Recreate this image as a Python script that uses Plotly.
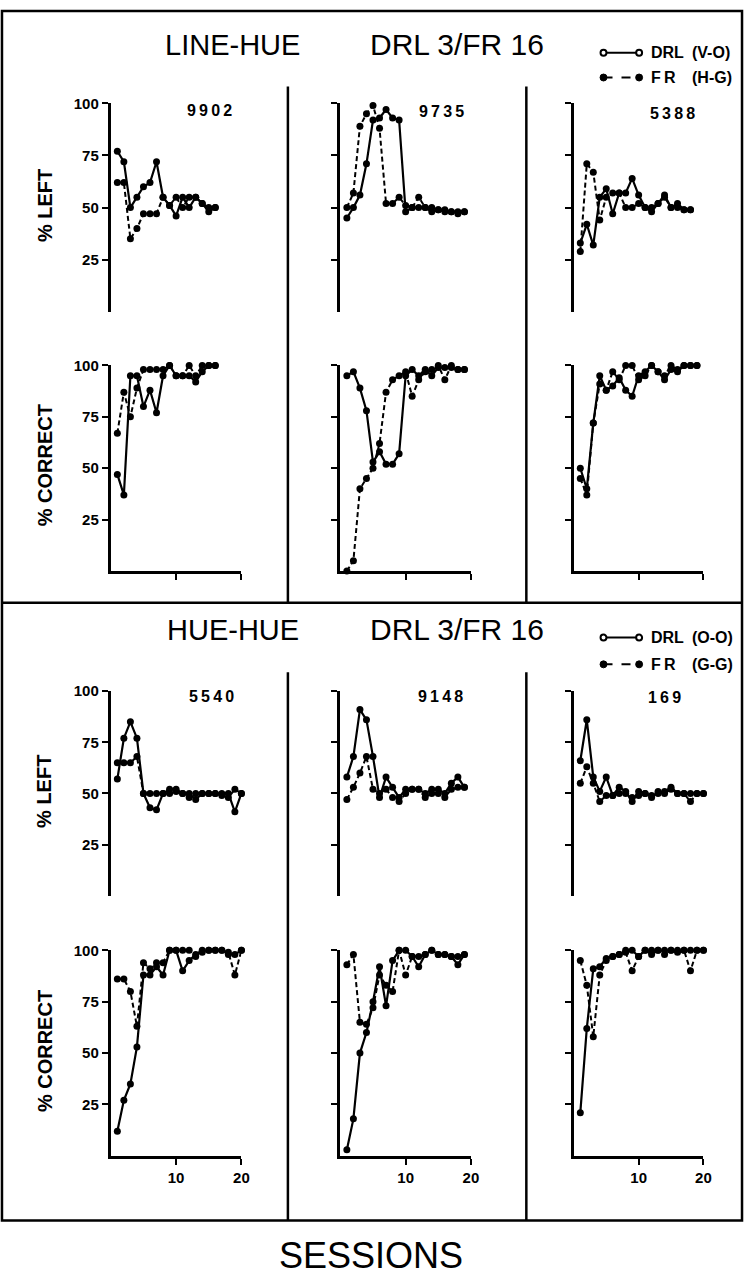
import plotly.graph_objects as go

W, H = 752, 1276

# ---------------- data (percent values per session) ----------------
subjects = ["9902", "9735", "5388", "5540", "9148", "169"]

left_9902_drl = [77, 72, 50, 55, 60, 62, 72, 55, 51, 46, 55, 50, 55, 52, 48, 50]
left_9902_fr = [62, 62, 35, 40, 47, 47, 47, 55, 51, 55, 50, 55, 55, 52, 50, 50]
left_9735_drl = [45, 50, 56, 71, 92, 93, 97, 93, 92, 48, 50, 50, 50, 48, 49, 48, 48, 48, 48]
left_9735_fr = [50, 57, 89, 95, 99, 88, 52, 52, 55, 51, 50, 55, 50, 50, 49, 49, 48, 47, 48]
left_5388_drl = [33, 42, 32, 55, 59, 47, 57, 57, 64, 56, 50, 48, 52, 56, 50, 52, 49, 49]
left_5388_fr = [29, 71, 67, 44, 55, 57, 57, 50, 50, 52, 50, 50, 52, 55, 50, 50, 49, 49]

corr_9902_drl = [47, 37, 95, 95, 80, 88, 77, 95, 100, 95, 95, 95, 92, 97, 100, 100]
corr_9902_fr = [67, 87, 75, 89, 98, 98, 98, 98, 100, 95, 95, 100, 95, 100, 100, 100]
corr_9735_drl = [95, 97, 89, 78, 53, 58, 52, 52, 57, 95, 98, 95, 98, 95, 99, 99, 99, 98, 98]
corr_9735_fr = [0, 5, 40, 45, 50, 62, 87, 93, 95, 97, 85, 93, 97, 98, 100, 93, 100, 98, 98]
corr_5388_drl = [50, 40, 72, 95, 88, 90, 94, 88, 85, 95, 97, 100, 97, 93, 98, 97, 100, 100, 100]
corr_5388_fr = [45, 37, 72, 91, 88, 97, 93, 100, 100, 93, 95, 100, 97, 95, 100, 98, 100, 100, 100]

left_5540_drl = [57, 77, 85, 77, 50, 43, 42, 50, 52, 52, 50, 50, 47, 50, 50, 50, 50, 50, 41, 50]
left_5540_fr = [65, 65, 65, 68, 50, 50, 50, 50, 50, 51, 50, 48, 50, 50, 50, 50, 49, 48, 52, 50]
left_9148_drl = [58, 68, 91, 86, 68, 48, 58, 53, 48, 52, 52, 52, 50, 52, 52, 50, 55, 58, 53]
left_9148_fr = [47, 53, 60, 68, 52, 50, 52, 48, 46, 50, 52, 52, 48, 50, 50, 48, 52, 53, 53]
left_169_drl = [66, 86, 58, 51, 58, 49, 53, 51, 46, 51, 50, 49, 50, 51, 53, 50, 50, 50, 50, 50]
left_169_fr = [55, 63, 55, 46, 49, 49, 50, 50, 48, 49, 50, 48, 51, 50, 52, 50, 50, 46, 50, 50]

corr_5540_drl = [12, 27, 35, 53, 88, 88, 92, 88, 100, 100, 90, 95, 98, 100, 100, 100, 100, 98, 98, 100]
corr_5540_fr = [86, 86, 80, 63, 94, 91, 94, 94, 100, 100, 100, 100, 97, 99, 100, 100, 100, 99, 88, 100]
corr_9148_drl = [3, 18, 50, 60, 75, 92, 73, 95, 100, 100, 97, 92, 98, 100, 98, 98, 97, 93, 98]
corr_9148_fr = [93, 98, 65, 64, 72, 88, 83, 80, 100, 88, 97, 97, 98, 100, 98, 98, 97, 97, 98]
corr_169_drl = [21, 62, 91, 92, 96, 97, 98, 100, 100, 97, 100, 98, 100, 100, 100, 99, 100, 100, 100, 100]
corr_169_fr = [95, 83, 58, 88, 95, 97, 98, 99, 90, 97, 100, 100, 100, 98, 100, 100, 100, 90, 100, 100]

y_ticks = [25, 50, 75, 100]
x_ticks = [10, 20]

# (row, col, drl, fr)
panels = [
    (0, 0, left_9902_drl, left_9902_fr), (0, 1, left_9735_drl, left_9735_fr), (0, 2, left_5388_drl, left_5388_fr),
    (1, 0, corr_9902_drl, corr_9902_fr), (1, 1, corr_9735_drl, corr_9735_fr), (1, 2, corr_5388_drl, corr_5388_fr),
    (2, 0, left_5540_drl, left_5540_fr), (2, 1, left_9148_drl, left_9148_fr), (2, 2, left_169_drl, left_169_fr),
    (3, 0, corr_5540_drl, corr_5540_fr), (3, 1, corr_9148_drl, corr_9148_fr), (3, 2, corr_169_drl, corr_169_fr),
]

# ---------------- layout geometry (pixels) ----------------
ROW_PX = [(95, 305), (359, 566), (687, 893), (948, 1155)]  # (y of 100, y of 0)
COL_PX = [(112, 244), (344, 476), (580, 711)]


def px(x):
    return x / W


def py(y):
    return 1 - y / H


FONT = "Liberation Sans"
fig = go.Figure()
lay = {}

for i, (row, col, drl, fr) in enumerate(panels):
    n = i + 1
    xa = "x" if n == 1 else f"x{n}"
    ya = "y" if n == 1 else f"y{n}"
    xk = "xaxis" if n == 1 else f"xaxis{n}"
    yk = "yaxis" if n == 1 else f"yaxis{n}"
    fig.add_trace(go.Scatter(
        x=list(range(1, len(fr) + 1)), y=fr, xaxis=xa, yaxis=ya,
        mode="lines+markers", cliponaxis=False, showlegend=False,
        line=dict(color="black", width=2, dash="5px,3px"),
        marker=dict(size=7, color="black")))
    fig.add_trace(go.Scatter(
        x=list(range(1, len(drl) + 1)), y=drl, xaxis=xa, yaxis=ya,
        mode="lines+markers", cliponaxis=False, showlegend=False,
        line=dict(color="black", width=2.2),
        marker=dict(size=7, color="black")))
    y100, y0 = ROW_PX[row]
    x0, x1 = COL_PX[col]
    is_corr = row in (1, 3)
    xaxis = dict(domain=[px(x0), px(x1)], range=[0, 20], anchor=ya,
                 showgrid=False, zeroline=False, fixedrange=True)
    if is_corr:
        xaxis.update(showline=True, linewidth=2.5, linecolor="black",
                     ticks="outside", ticklen=6, tickwidth=2, tickcolor="black",
                     tickvals=x_ticks, showticklabels=(row == 3),
                     tickfont=dict(family=FONT, size=15, color="black", weight="bold"))
    else:
        xaxis.update(visible=False)
    lay[xk] = xaxis
    lay[yk] = dict(domain=[py(y0), py(y100)], range=[0, 100], anchor=xa,
                   showline=True, linewidth=3, linecolor="black",
                   ticks="outside", ticklen=6, tickwidth=2, tickcolor="black",
                   tickvals=y_ticks, showticklabels=(col == 0),
                   tickfont=dict(family=FONT, size=15, color="black", weight="bold"),
                   showgrid=False, zeroline=False, fixedrange=True)

shapes = []
ann = []
LW = 2.5
# outer frame and dividers
shapes.append(dict(type="rect", xref="paper", yref="paper", x0=px(2), x1=px(750), y0=py(1220), y1=py(2),
                   line=dict(color="black", width=LW)))
shapes.append(dict(type="line", xref="paper", yref="paper", x0=px(2), x1=px(750), y0=py(598), y1=py(598),
                   line=dict(color="black", width=LW)))
for xd in (291, 532):
    for (ya0, ya1) in ((78, 598), (668, 1220)):
        shapes.append(dict(type="line", xref="paper", yref="paper", x0=px(xd), x1=px(xd),
                           y0=py(ya0), y1=py(ya1), line=dict(color="black", width=LW)))


def text(x, y, s, size, bold=True, xanchor="center", angle=0, family=FONT):
    ann.append(dict(x=px(x), y=py(y), xref="paper", yref="paper", text=s, showarrow=False,
                    xanchor=xanchor, yanchor="middle", textangle=angle,
                    font=dict(family=family, size=size, color="black",
                              weight="bold" if bold else "normal")))


# section titles
for (ty, left_txt) in ((36, "LINE-HUE"), (625, "HUE-HUE")):
    text(235, ty, left_txt, 29, bold=False)
    text(462, ty, "DRL 3/FR 16", 30, bold=False)

# legends
legends = [(44, 69, "(V-O)", "(H-G)"), (633, 660, "(O-O)", "(G-G)")]
LX0, LX1 = 610, 646
for (yd, yf, cd, cf) in legends:
    shapes.append(dict(type="line", xref="paper", yref="paper", x0=px(LX0), x1=px(LX1), y0=py(yd), y1=py(yd),
                       line=dict(color="black", width=2)))
    shapes.append(dict(type="line", xref="paper", yref="paper", x0=px(LX0), x1=px(LX1), y0=py(yf), y1=py(yf),
                       line=dict(color="black", width=2, dash="dash")))
    for xc in (LX0, LX1):
        shapes.append(dict(type="circle", xref="paper", yref="paper", x0=px(xc - 3), x1=px(xc + 3),
                           y0=py(yd + 3), y1=py(yd - 3), fillcolor="white",
                           line=dict(color="black", width=2)))
        shapes.append(dict(type="circle", xref="paper", yref="paper", x0=px(xc - 3.5), x1=px(xc + 3.5),
                           y0=py(yf + 3.5), y1=py(yf - 3.5), fillcolor="black",
                           line=dict(color="black", width=1)))
    text(656, yd, "DRL", 16, xanchor="left")
    text(697, yd, cd, 16, xanchor="left")
    text(656, yf, "F\u2009R", 16, xanchor="left")
    text(697, yf, cf, 16, xanchor="left")

# subject ids
id_pos = [(212, 102), (446, 103), (680, 105), (214, 692), (445, 692), (672, 693)]
for s, (x, y) in zip(subjects, id_pos):
    text(x, y, "\u2009".join(s), 16)

# y-axis titles
for (yc, s) in ((198, "% LEFT"), (460, "% CORRECT"), (788, "% LEFT"), (1050, "% CORRECT")):
    text(45, yc, s, 20, angle=-90)

# x-axis title
text(375, 1255, "SESSIONS", 36, bold=False)

lay.update(dict(width=W, height=H, autosize=False, margin=dict(l=0, r=0, t=0, b=0),
                paper_bgcolor="white", plot_bgcolor="white", showlegend=False,
                shapes=shapes, annotations=ann))
fig.update_layout(**lay)
fig.write_html("out.html")
